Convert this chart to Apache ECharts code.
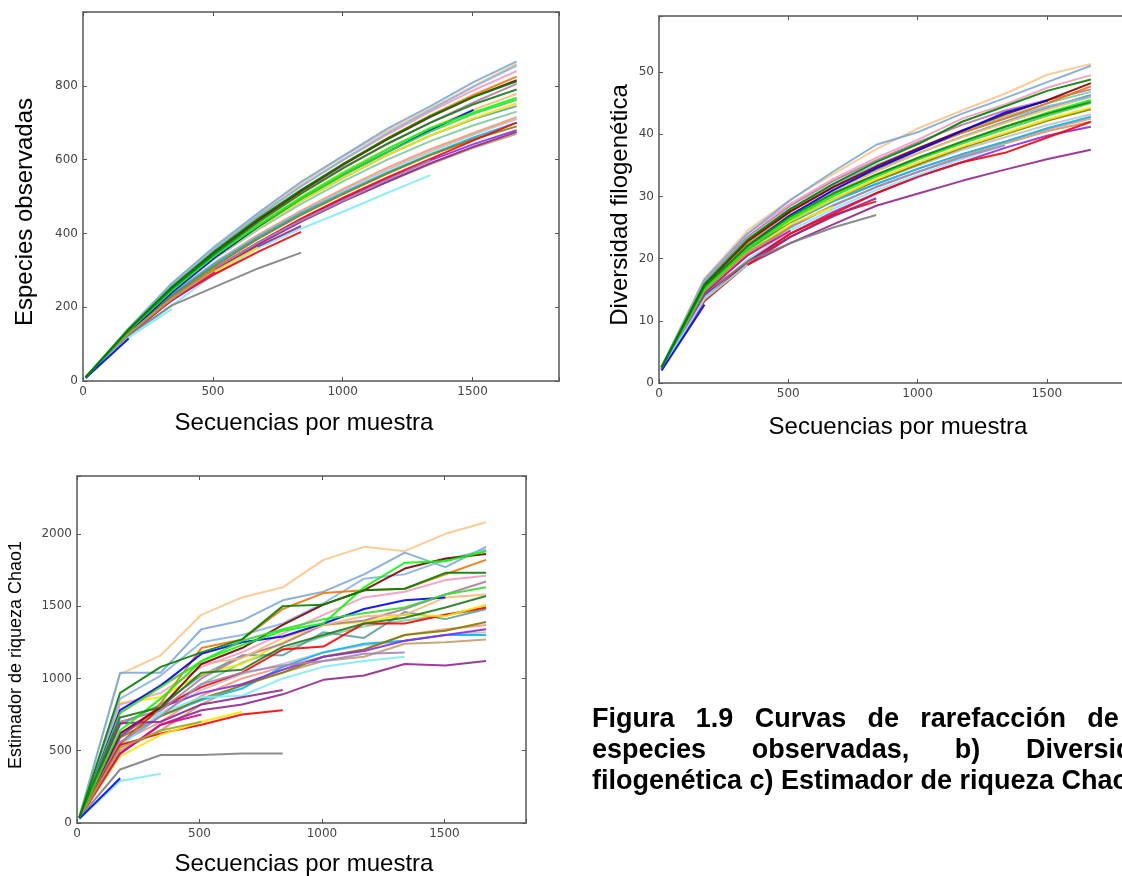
<!DOCTYPE html>
<html>
<head>
<meta charset="utf-8">
<title>Curvas de rarefacción</title>
<script src="https://cdn.jsdelivr.net/npm/echarts@6/dist/echarts.min.js"></script>
<style>
    html, body { margin: 0; padding: 0; background: #fff; }
    #main-chart { width: 1122px; height: 876px; }
</style>
</head>
<body>
<div id="main-chart"></div>
<script>
// rarefaction depths (secuencias por muestra)
const depths = [10, 176, 342, 508, 674, 840, 1006, 1172, 1338, 1504, 1670];
const xTicks = [0, 500, 1000, 1500];

const sampleColors = [
    '#c0c0c0', '#c49c6b', '#f79679', '#80c99b', '#5da09e', '#00b6ff', '#808000', '#8a2be2',
    '#91278d', '#ff0000', '#f5e400', '#b07aa1', '#f7b977', '#f49ac2', '#fcc688', '#7da9d8',
    '#8ab4e0', '#f27304', '#800000', '#0000ff', '#7cecf4', '#a287bf', '#ff0000', '#91278d',
    '#808080', '#ffe600', '#ed008a', '#9aa82f', '#7cecf4', '#0000ff', '#33dd33', '#00ff00',
    '#1e7b1e', '#008000'
];

// a) especies observadas
const observedSpecies = [
    [9, 130, 232, 318, 392, 458, 518, 572, 622, 668, 710],
    [9, 127, 222, 300, 370, 432, 488, 540, 588, 632, 670],
    [10, 133, 236, 322, 396, 462, 522, 578, 628, 672, 715],
    [10, 135, 242, 332, 410, 480, 543, 600, 650, 693, 730],
    [10, 136, 244, 336, 416, 488, 552, 612, 665, 710, 745],
    [10, 132, 234, 318, 390, 455, 512, 565, 615, 660, 700],
    [10, 130, 230, 312, 385, 450, 508, 562, 612, 655, 690],
    [9, 128, 225, 305, 375, 438, 495, 548, 598, 642, 680],
    [9, 126, 220, 300, 370, 432, 488, 540, 590, 635, 675],
    [9, 128, 224, 305, 375, 440, 498, 552, 602, 652, 700],
    [10, 135, 242, 335, 415, 488, 552, 612, 665, 712, 752],
    [10, 140, 254, 350, 435, 510, 580, 642, 700, 755, 805],
    [10, 136, 246, 340, 424, 500, 568, 630, 686, 735, 778],
    [10, 142, 260, 358, 448, 528, 600, 668, 730, 788, 840],
    [10, 142, 262, 362, 452, 535, 610, 678, 738, 800, 860],
    [10, 143, 265, 365, 455, 540, 612, 684, 745, 810, 866],
    [10, 140, 258, 358, 447, 528, 602, 672, 735, 797, 855],
    [10, 138, 250, 348, 435, 515, 590, 658, 720, 775, 825],
    [10, 139, 252, 350, 436, 515, 588, 655, 716, 770, 815],
    [9, 132, 240, 335, 418, 494, 560, 620, 680, 735],
    [9, 118, 205, 290, 360, 413, 460, 510, 558],
    [9, 128, 225, 305, 375, 435, 490, 545, 598],
    [9, 125, 220, 290, 350, 404],
    [9, 126, 222, 300, 365, 420],
    [9, 125, 205, 255, 305, 348],
    [9, 128, 222, 298, 362],
    [9, 127, 218, 295],
    [9, 128, 222, 305],
    [9, 118, 195],
    [8, 115],
    [10, 137, 246, 340, 420, 494, 560, 620, 676, 724, 762],
    [10, 136, 245, 340, 422, 497, 565, 628, 685, 728, 768],
    [10, 138, 250, 345, 430, 508, 578, 643, 700, 750, 790],
    [10, 140, 255, 352, 440, 518, 590, 657, 718, 770, 812]
];

// b) diversidad filogenética
const phyloDiversity = [
    [2.4, 15.0, 21.5, 26.0, 29.5, 32.5, 35.0, 37.5, 39.5, 41.5, 43.2],
    [2.4, 14.8, 20.8, 25.2, 28.6, 31.5, 34.0, 36.5, 38.5, 40.5, 42.0],
    [2.5, 15.0, 21.3, 25.8, 29.3, 32.0, 34.5, 36.8, 38.8, 40.8, 42.5],
    [2.5, 15.8, 22.8, 27.8, 31.8, 35.0, 37.8, 40.5, 42.8, 45.0, 46.8],
    [2.5, 15.5, 22.2, 27.0, 31.0, 34.2, 37.0, 39.6, 42.0, 44.3, 46.3],
    [2.5, 15.0, 21.2, 25.8, 29.2, 32.0, 34.5, 36.8, 38.8, 41.0, 42.8],
    [2.5, 15.2, 21.5, 26.0, 29.5, 32.5, 35.2, 37.8, 40.0, 42.2, 44.0],
    [2.3, 14.0, 19.5, 24.0, 27.5, 30.5, 33.2, 35.5, 37.8, 39.8, 41.2],
    [2.2, 14.0, 19.0, 22.5, 25.5, 28.5, 30.5, 32.5, 34.3, 36.0, 37.5],
    [2.3, 13.5, 19.5, 24.0, 27.2, 30.5, 33.3, 35.5, 37.0, 39.5, 42.0],
    [2.6, 15.5, 22.0, 26.0, 29.5, 32.8, 35.5, 38.0, 40.2, 42.4, 44.3],
    [2.5, 16.2, 23.5, 28.5, 32.5, 35.8, 38.8, 41.5, 43.8, 45.5, 47.2],
    [2.5, 15.5, 22.2, 27.0, 30.8, 34.0, 37.0, 39.5, 41.8, 44.0, 46.0],
    [2.6, 16.8, 24.0, 28.8, 32.8, 36.2, 39.2, 42.5, 44.8, 47.5, 49.5],
    [2.6, 16.8, 24.5, 29.5, 33.6, 37.6, 41.0, 43.8, 46.5, 49.6, 51.3],
    [2.6, 16.6, 24.0, 29.4, 34.0, 38.3, 40.4, 43.3, 45.8, 48.4, 51.0],
    [2.5, 16.0, 23.0, 28.0, 31.8, 35.0, 37.8, 40.3, 42.5, 44.5, 46.0],
    [2.5, 15.5, 22.5, 27.5, 31.5, 34.5, 37.5, 40.2, 42.5, 45.0, 47.7],
    [2.5, 15.8, 22.8, 27.6, 31.5, 34.8, 37.8, 40.6, 43.2, 45.5, 48.2],
    [2.2, 15.0, 22.0, 27.0, 31.0, 34.5, 37.5, 40.5, 43.5, 45.4],
    [2.2, 13.8, 19.8, 24.5, 28.0, 31.0, 33.5, 36.0, 38.3],
    [2.3, 14.5, 20.5, 25.0, 28.5, 31.5, 34.0, 36.3, 38.2],
    [2.2, 13.2, 19.0, 23.5, 27.0, 29.2],
    [2.2, 14.2, 19.5, 23.5, 26.8, 29.7],
    [2.1, 14.5, 19.5, 22.5, 25.0, 27.0],
    [2.4, 15.0, 21.0, 25.5, 28.3],
    [2.3, 14.5, 20.5, 24.5],
    [2.3, 14.8, 21.0, 25.0],
    [2.2, 13.5, 19.0],
    [2.0, 12.6],
    [2.5, 15.0, 21.5, 26.3, 30.0, 33.2, 36.0, 38.5, 40.8, 43.0, 45.0],
    [2.5, 15.2, 21.8, 26.5, 30.3, 33.5, 36.2, 38.8, 41.2, 43.5, 45.5],
    [2.5, 15.5, 22.0, 26.8, 30.5, 33.5, 36.3, 38.8, 41.2, 43.3, 45.2],
    [2.5, 15.9, 23.0, 28.0, 32.0, 35.5, 38.5, 42.0, 44.5, 47.0, 48.8]
];

// c) estimador de riqueza Chao1
const chao1Values = [
    [40, 620, 760, 920, 1030, 1100, 1180, 1230, 1260, 1300, 1320],
    [35, 500, 640, 820, 960, 1040, 1120, 1150, 1240, 1250, 1270],
    [40, 560, 700, 880, 1000, 1080, 1150, 1200, 1300, 1340, 1370],
    [40, 600, 780, 960, 1110, 1200, 1290, 1360, 1400, 1440, 1480],
    [40, 680, 820, 1020, 1160, 1160, 1320, 1280, 1460, 1410, 1480],
    [40, 540, 740, 850, 930, 1080, 1180, 1240, 1260, 1300, 1300],
    [40, 590, 740, 860, 950, 1040, 1150, 1200, 1300, 1330, 1390],
    [35, 600, 800, 900, 960, 1060, 1150, 1190, 1260, 1300, 1340],
    [35, 480, 680, 780, 820, 890, 990, 1020, 1100, 1090, 1120],
    [40, 550, 800, 940, 1040, 1200, 1220, 1380, 1380, 1440, 1490],
    [40, 830, 870, 1030, 1100, 1250, 1370, 1390, 1440, 1430, 1510],
    [40, 700, 780, 1000, 1150, 1240, 1370, 1400, 1480, 1580, 1670],
    [40, 760, 960, 1100, 1140, 1280, 1370, 1430, 1440, 1560, 1580],
    [40, 820, 900, 1080, 1180, 1310, 1440, 1560, 1600, 1680, 1710],
    [45, 1030, 1160, 1440, 1560, 1630, 1820, 1910, 1880, 2000, 2080],
    [45, 1040, 1040, 1340, 1400, 1540, 1600, 1720, 1870, 1770, 1910],
    [40, 860, 1020, 1250, 1300, 1380, 1520, 1690, 1720, 1820, 1890],
    [40, 530, 830, 1210, 1270, 1480, 1590, 1610, 1620, 1720, 1820],
    [40, 620, 800, 1100, 1210, 1370, 1510, 1610, 1760, 1830, 1860],
    [35, 780, 950, 1170, 1250, 1290, 1380, 1480, 1540, 1560],
    [35, 530, 760, 870, 880, 1000, 1080, 1120, 1150],
    [35, 560, 740, 960, 1040, 1090, 1120, 1170, 1180],
    [35, 540, 620, 680, 750, 780],
    [35, 690, 700, 820, 870, 920],
    [35, 370, 470, 470, 480, 480],
    [35, 460, 610, 700, 770],
    [35, 480, 680, 750],
    [35, 520, 640, 700],
    [30, 290, 340],
    [30, 310],
    [40, 760, 940, 1120, 1260, 1340, 1410, 1450, 1490, 1580, 1630],
    [40, 640, 860, 1120, 1230, 1330, 1380, 1630, 1800, 1810, 1880],
    [40, 730, 800, 1040, 1060, 1220, 1300, 1380, 1420, 1490, 1570],
    [40, 900, 1080, 1180, 1270, 1500, 1510, 1610, 1620, 1730, 1730]
];

const captionLines = [
    ['Figura', '1.9', 'Curvas', 'de', 'rarefacción', 'de', 'a)'],
    ['especies', 'observadas,', 'b)', 'Diversidad'],
    ['filogenética', 'c)', 'Estimador', 'de', 'riqueza', 'Chao1']
];

const X_MAX = 1833;
const AXIS_COLOR = '#808080';
const LABEL_FONT = '"DejaVu Sans", sans-serif';
const TITLE_FONT = '"Liberation Sans", Arial, sans-serif';
const CAPTION_SIZE = 27;

let mainChart;

document.addEventListener('DOMContentLoaded', () => {
    mainChart = echarts.init(document.getElementById('main-chart'), null, { renderer: 'canvas' });
    mainChart.setOption(buildOption());
});

function makeXAxis(gridIndex, position) {
    const bottom = position === 'bottom';
    return {
        type: 'value', gridIndex, position, min: 0, max: X_MAX, interval: 500,
        axisLine: { show: true, onZero: false, lineStyle: { color: AXIS_COLOR, width: 2 } },
        axisTick: { show: true, inside: true, length: 4, lineStyle: { color: '#555', width: 1 } },
        axisLabel: {
            show: bottom, margin: 5, color: '#444', fontSize: 12, fontFamily: LABEL_FONT,
            formatter: v => (xTicks.includes(v) ? String(v) : '')
        },
        splitLine: { show: false }
    };
}

function makeYAxis(gridIndex, position, max, step) {
    const left = position === 'left';
    return {
        type: 'value', gridIndex, position, min: 0, max, interval: step,
        axisLine: { show: true, onZero: false, lineStyle: { color: AXIS_COLOR, width: 2 } },
        axisTick: { show: true, inside: true, length: 4, lineStyle: { color: '#555', width: 1 } },
        axisLabel: {
            show: left, margin: 5, color: '#444', fontSize: 12, fontFamily: LABEL_FONT,
            // no label on the top edge of the frame
            formatter: v => (v < max - 1e-9 && Math.abs(v % step) < 1e-9 ? String(v) : '')
        },
        splitLine: { show: false }
    };
}

function buildSeries(rows, panel) {
    return rows.map((row, i) => ({
        type: 'line',
        xAxisIndex: panel * 2,
        yAxisIndex: panel * 2,
        data: row.map((v, j) => [depths[j], v]),
        showSymbol: false,
        symbol: 'none',
        silent: true,
        lineStyle: { color: sampleColors[i], width: 2, opacity: 0.9 },
        itemStyle: { color: sampleColors[i] }
    }));
}

function titleText(text, x, y, size, vertical) {
    return {
        type: 'text', x, y, rotation: vertical ? Math.PI / 2 : 0,
        style: { text, fill: '#000', fontSize: size, fontFamily: TITLE_FONT, align: 'center', verticalAlign: 'middle' }
    };
}

// justified caption, cut by the right edge like the scanned page
function captionGraphics() {
    const ctx = document.createElement('canvas').getContext('2d');
    ctx.font = `bold ${CAPTION_SIZE}px "Liberation Sans", Arial, sans-serif`;
    const left = 592, right = 1164, firstY = 720, lineStep = 31;
    const out = [];
    captionLines.forEach((words, li) => {
        const widths = words.map(w => ctx.measureText(w).width);
        const total = widths.reduce((a, b) => a + b, 0);
        const justify = li < captionLines.length - 1;
        const gap = justify ? (right - left - total) / (words.length - 1) : ctx.measureText(' ').width;
        let x = left;
        words.forEach((w, wi) => {
            out.push({
                type: 'text', x, y: firstY + li * lineStep,
                style: { text: w, fill: '#000', fontSize: CAPTION_SIZE, fontWeight: 'bold', fontFamily: TITLE_FONT, align: 'left', verticalAlign: 'middle' }
            });
            x += widths[wi] + gap;
        });
    });
    return out;
}

function buildOption() {
    return {
        animation: false,
        backgroundColor: '#fff',
        grid: [
            { left: 83, top: 12, width: 476, height: 369, outerBoundsMode: 'none' },
            { left: 659, top: 16, width: 474, height: 367, outerBoundsMode: 'none' },
            { left: 77, top: 476, width: 449, height: 347, outerBoundsMode: 'none' }
        ],
        xAxis: [
            makeXAxis(0, 'bottom'), makeXAxis(0, 'top'),
            makeXAxis(1, 'bottom'), makeXAxis(1, 'top'),
            makeXAxis(2, 'bottom'), makeXAxis(2, 'top')
        ],
        yAxis: [
            makeYAxis(0, 'left', 1000, 200), makeYAxis(0, 'right', 1000, 200),
            makeYAxis(1, 'left', 59, 10), makeYAxis(1, 'right', 59, 10),
            makeYAxis(2, 'left', 2400, 500), makeYAxis(2, 'right', 2400, 500)
        ],
        series: [
            ...buildSeries(observedSpecies, 0),
            ...buildSeries(phyloDiversity, 1),
            ...buildSeries(chao1Values, 2)
        ],
        graphic: [
            titleText('Especies observadas', 25, 212, 24, true),
            titleText('Secuencias por muestra', 304, 423, 24, false),
            titleText('Diversidad filogenética', 620, 205, 24, true),
            titleText('Secuencias por muestra', 898, 427, 24, false),
            titleText('Estimador de riqueza Chao1', 16, 655, 18, true),
            titleText('Secuencias por muestra', 304, 864, 24, false),
            ...captionGraphics()
        ]
    };
}
</script>
</body>
</html>
